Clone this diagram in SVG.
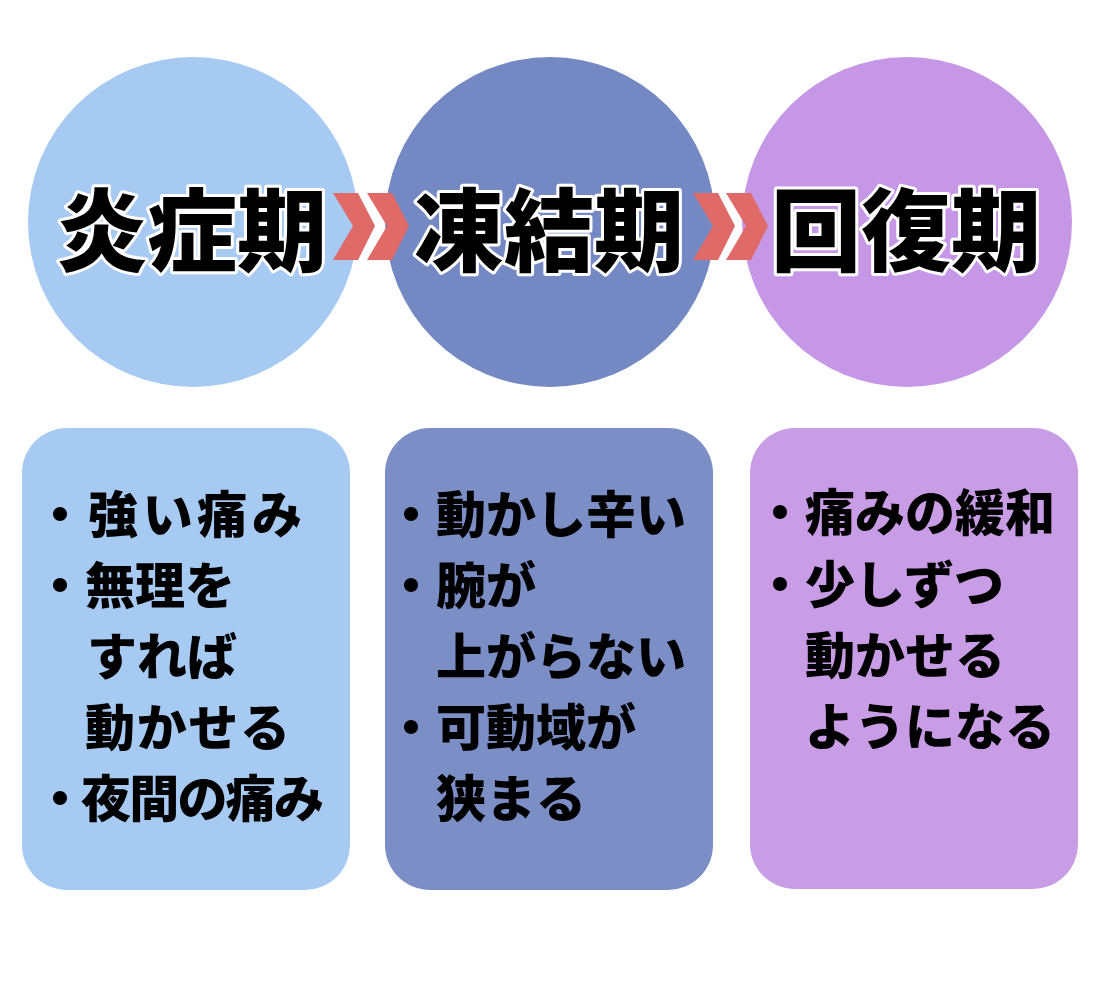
<svg xmlns="http://www.w3.org/2000/svg" width="1100" height="990" viewBox="0 0 1100 990">
  <style>
    .title { font-family: "Noto Sans CJK JP", "Noto Sans", sans-serif; font-weight: 900; font-size: 90px; fill: #000; stroke: #fff; stroke-width: 6px; stroke-linejoin: round; paint-order: stroke; text-anchor: middle; }
    .item { font-family: "Noto Sans CJK JP", "Noto Sans", sans-serif; font-weight: 900; font-size: 50px; fill: #000; }
    .chev { fill: #E06A68; }
  </style>
  <defs>
    <path id="chevron" d="M0,0 L25,0 L42,33 L25,67 L0,67 L20,33 Z"/>
  </defs>
  <rect width="1100" height="990" fill="#fff"/>

  <g id="node-enshoki">
    <circle cx="193" cy="222" r="165" fill="#A6CAF2"/>
    <text class="title" x="192" y="264">炎症期</text>
  </g>
  <g id="node-toketsuki">
    <circle cx="550" cy="222" r="165" fill="#7489C4"/>
    <text class="title" x="549" y="264">凍結期</text>
  </g>
  <g id="node-kaifukuki">
    <circle cx="907" cy="222" r="165" fill="#C597E6"/>
    <text class="title" x="906" y="264">回復期</text>
  </g>

  <g id="connectors">
    <use href="#chevron" class="chev" x="333" y="193"/>
    <use href="#chevron" class="chev" x="367" y="193"/>
    <use href="#chevron" class="chev" x="693" y="193"/>
    <use href="#chevron" class="chev" x="726" y="193"/>
  </g>

  <g id="box-enshoki">
    <rect x="22" y="428" width="328" height="462" rx="45" fill="#A6CAF2"/>
    <text class="item">
      <tspan x="35" y="533">・</tspan><tspan x="88" y="533" textLength="214" lengthAdjust="spacing">強い痛み</tspan>
      <tspan x="35" y="604">・無理を</tspan>
      <tspan x="87" y="675">すれば</tspan>
      <tspan x="85" y="746" textLength="205" lengthAdjust="spacing">動かせる</tspan>
      <tspan x="35" y="817">・</tspan><tspan x="81" y="817" textLength="243" lengthAdjust="spacing">夜間の痛み</tspan>
    </text>
  </g>
  <g id="box-toketsuki">
    <rect x="385" y="428" width="328" height="462" rx="45" fill="#7C8EC6"/>
    <text class="item">
      <tspan x="386" y="533">・動かし辛い</tspan>
      <tspan x="386" y="604">・腕が</tspan>
      <tspan x="436" y="675">上がらない</tspan>
      <tspan x="386" y="746">・可動域が</tspan>
      <tspan x="436" y="817">狭まる</tspan>
    </text>
  </g>
  <g id="box-kaifukuki">
    <rect x="750" y="428" width="328" height="461" rx="45" fill="#C99CE6"/>
    <text class="item">
      <tspan x="755" y="531">・痛みの緩和</tspan>
      <tspan x="755" y="603">・少しずつ</tspan>
      <tspan x="805" y="674">動かせる</tspan>
      <tspan x="805" y="745">ようになる</tspan>
    </text>
  </g>
</svg>
